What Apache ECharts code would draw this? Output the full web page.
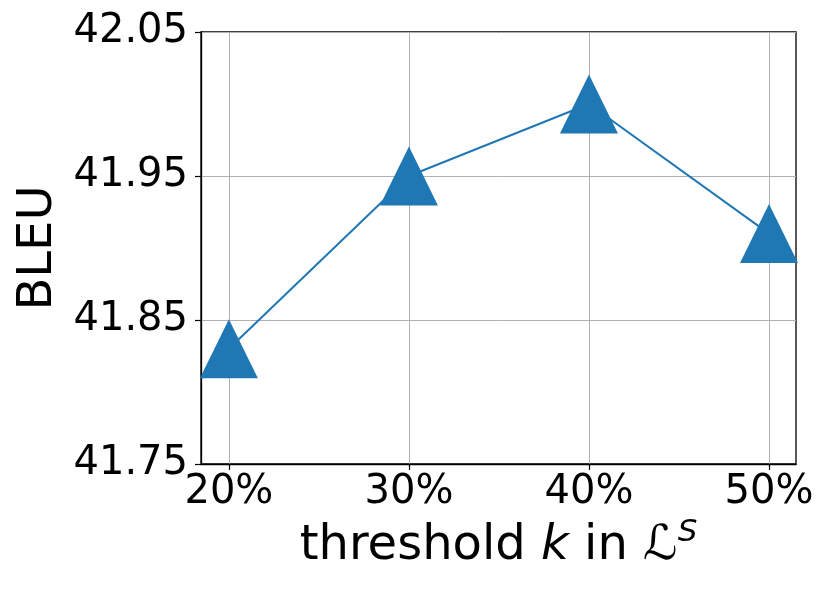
<!DOCTYPE html>
<html>
<head>
<meta charset="utf-8">
<script src="https://cdn.jsdelivr.net/npm/echarts@6/dist/echarts.min.js"></script>
<style>html,body{margin:0;padding:0;background:#fff;}#c{width:830px;height:593px;}</style>
</head>
<body>
<div id="c"></div>
<script>
const categories = ['20%', '30%', '40%', '50%'];
const bleu = [41.83, 41.95, 42.00, 41.91];
const yTicks = [41.75, 41.85, 41.95, 42.05];
const yLabels = ['41.75', '41.85', '41.95', '42.05'];

const chart = echarts.init(document.getElementById('c'), null, {renderer: 'canvas'});
const font = 'DejaVu Sans';
const xIdx = categories.map((c, i) => i);
const option = {
  animation: false,
  backgroundColor: '#fff',
  grid: {left: 201, right: 34, top: 32, bottom: 129, show: true, borderColor: '#000', borderWidth: 1.3, backgroundColor: 'transparent'},
  xAxis: {
    type: 'value', min: -0.155, max: 3.15,
    axisLine: {show: true, onZero: false, lineStyle: {color: '#000', width: 1.3}},
    axisTick: {show: true, length: 6, lineStyle: {color: '#000', width: 1.2}, customValues: xIdx},
    axisLabel: {customValues: xIdx, formatter: v => categories[Math.round(v)], fontFamily: font, fontSize: 40, color: '#000', margin: 9},
    splitLine: {show: true, lineStyle: {color: '#b0b0b0', width: 1}},
    name: 'threshold {i|k} in {c|ℒ}{s|S}',
    nameLocation: 'middle', nameGap: 52,
    nameTextStyle: {fontFamily: font, fontSize: 48, color: '#000', lineHeight: 56,
      rich: {
        i: {fontFamily: font, fontSize: 48, fontStyle: 'italic', color: '#000', lineHeight: 56},
        c: {fontFamily: font, fontSize: 48, fontStyle: 'italic', color: '#000', lineHeight: 56},
        s: {fontFamily: font, fontSize: 31, fontStyle: 'italic', color: '#000', lineHeight: 56, padding: [0, 0, 26, 0]}
      }}
  },
  yAxis: {
    type: 'value', min: 41.75, max: 42.05,
    axisLine: {show: true, onZero: false, lineStyle: {color: '#000', width: 1.3}},
    axisTick: {show: true, length: 6, lineStyle: {color: '#000', width: 1.2}, customValues: yTicks},
    axisLabel: {customValues: yTicks, formatter: v => yLabels[yTicks.findIndex(t => Math.abs(t - v) < 1e-6)], fontFamily: font, fontSize: 40, color: '#000', margin: 13},
    splitLine: {show: true, lineStyle: {color: '#b0b0b0', width: 1}},
    name: 'BLEU', nameLocation: 'middle', nameGap: 136,
    nameTextStyle: {fontFamily: font, fontSize: 48, color: '#000'}
  },
  series: [{
    type: 'line',
    data: bleu.map((v, i) => [xIdx[i], v]),
    symbol: 'triangle', symbolSize: [58, 59],
    lineStyle: {color: '#1f77b4', width: 2},
    itemStyle: {color: '#1f77b4'},
    clip: true
  }]
};
chart.setOption(option);
</script>
</body>
</html>
